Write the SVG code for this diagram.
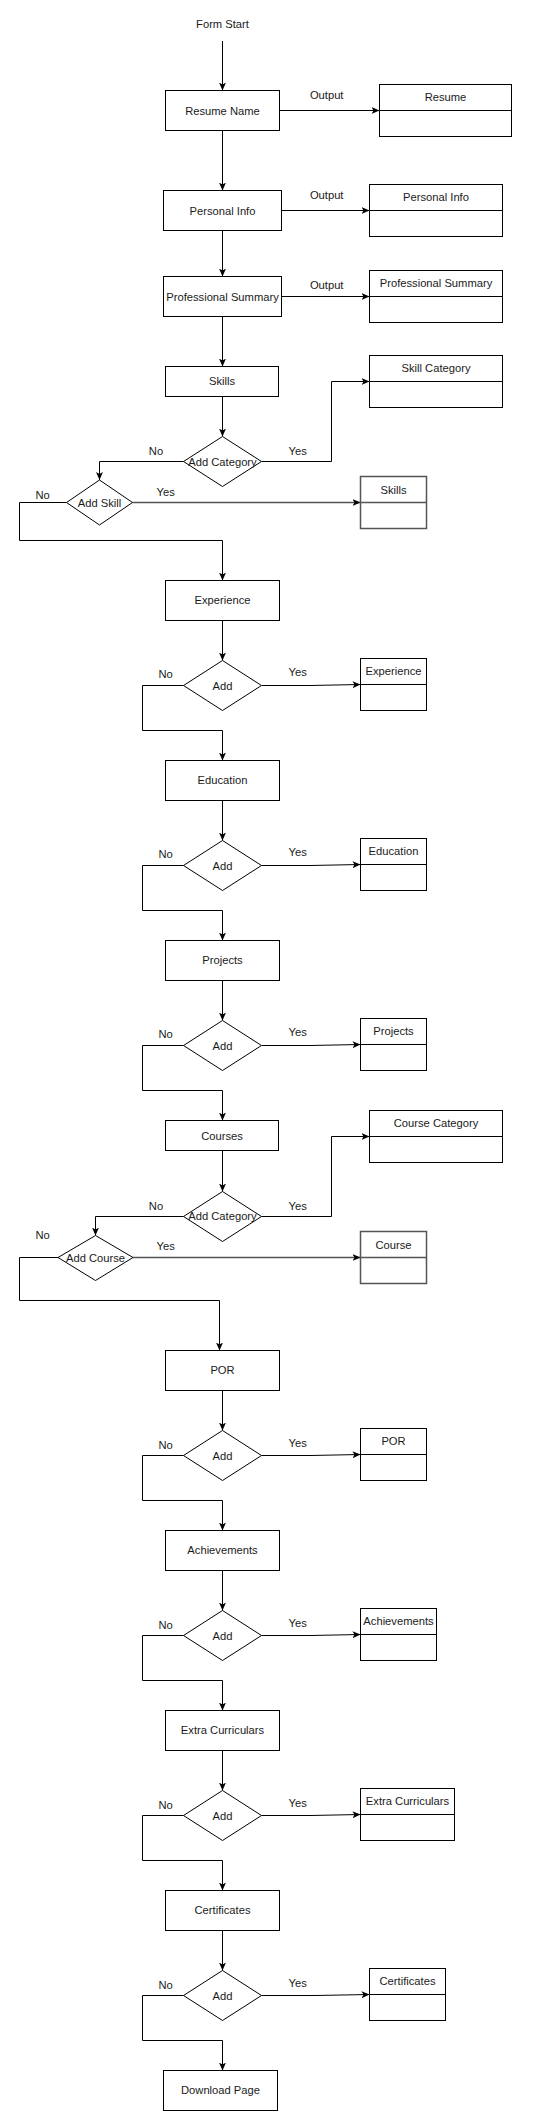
<svg xmlns="http://www.w3.org/2000/svg" width="552" height="2121" viewBox="0 0 552 2121">
<style>
  .box{fill:#fff;stroke:#000;stroke-width:1}
  .gbox{fill:#fff;stroke:#555;stroke-width:1.5}
  .ln{fill:none;stroke:#000;stroke-width:1}
  .gln{fill:none;stroke:#555;stroke-width:1.5}
  text{font-family:"Liberation Sans",Arial,sans-serif;font-size:11.2px;fill:#1a1a1a;text-anchor:middle}
</style>
<defs>
  <marker id="arr" markerUnits="userSpaceOnUse" markerWidth="9" markerHeight="8" refX="8" refY="3.5" orient="auto">
    <path d="M0,0 L8,3.5 L0,7 L2,3.5 Z" fill="#000"/>
  </marker>
</defs>
<rect width="552" height="2121" fill="#fff"/>

<g id="connectors">
  <path class="ln" d="M222.5,41 V90.5" marker-end="url(#arr)"/>
  <path class="ln" d="M222.5,130.5 V190.5" marker-end="url(#arr)"/>
  <path class="ln" d="M222.5,230.5 V276.5" marker-end="url(#arr)"/>
  <path class="ln" d="M222.5,316.5 V366.5" marker-end="url(#arr)"/>
  <path class="ln" d="M222.5,396.5 V436.5" marker-end="url(#arr)"/>
  <path class="ln" d="M279.5,110.5 H379.5" marker-end="url(#arr)"/>
  <path class="ln" d="M281.5,210.5 H369.5" marker-end="url(#arr)"/>
  <path class="ln" d="M281.5,296.5 H369.5" marker-end="url(#arr)"/>
  <path class="ln" d="M261.5,461.5 H331.5 V381.5 H369.5" marker-end="url(#arr)"/>
  <path class="ln" d="M183.5,461.5 H99.5 V480" marker-end="url(#arr)"/>
  <path class="gln" d="M132.5,502.5 H360.5" marker-end="url(#arr)"/>
  <path class="ln" d="M66.5,502.5 H19.5 V540.5 H222.5 V580.5" marker-end="url(#arr)"/>

  <path class="ln" d="M222.5,620.5 V660.5" marker-end="url(#arr)"/>
  <path class="ln" d="M261.5,685.5 H310 L360.5,684.5" marker-end="url(#arr)"/>
  <path class="ln" d="M183.5,685.5 H142.5 V730.5 H222.5 V760.5" marker-end="url(#arr)"/>

  <path class="ln" d="M222.5,800.5 V840.5" marker-end="url(#arr)"/>
  <path class="ln" d="M261.5,865.5 H310 L360.5,864.5" marker-end="url(#arr)"/>
  <path class="ln" d="M183.5,865.5 H142.5 V910.5 H222.5 V940.5" marker-end="url(#arr)"/>

  <path class="ln" d="M222.5,980.5 V1020.5" marker-end="url(#arr)"/>
  <path class="ln" d="M261.5,1045.5 H310 L360.5,1044.5" marker-end="url(#arr)"/>
  <path class="ln" d="M183.5,1045.5 H142.5 V1090.5 H222.5 V1120.5" marker-end="url(#arr)"/>

  <path class="ln" d="M222.5,1150.5 V1191.5" marker-end="url(#arr)"/>
  <path class="ln" d="M261.5,1216.5 H331.5 V1136.5 H369.5" marker-end="url(#arr)"/>
  <path class="ln" d="M183.5,1216.5 H95.5 V1235.5" marker-end="url(#arr)"/>
  <path class="gln" d="M133,1257.5 H360.5" marker-end="url(#arr)"/>
  <path class="ln" d="M58,1257.5 H19.5 V1300.5 H219.5 V1350.5" marker-end="url(#arr)"/>

  <path class="ln" d="M222.5,1390.5 V1430.5" marker-end="url(#arr)"/>
  <path class="ln" d="M261.5,1455.5 H310 L360.5,1454.5" marker-end="url(#arr)"/>
  <path class="ln" d="M183.5,1455.5 H142.5 V1500.5 H222.5 V1530.5" marker-end="url(#arr)"/>

  <path class="ln" d="M222.5,1570.5 V1610.5" marker-end="url(#arr)"/>
  <path class="ln" d="M261.5,1635.5 H310 L360.5,1634.5" marker-end="url(#arr)"/>
  <path class="ln" d="M183.5,1635.5 H142.5 V1680.5 H222.5 V1710.5" marker-end="url(#arr)"/>

  <path class="ln" d="M222.5,1750.5 V1790.5" marker-end="url(#arr)"/>
  <path class="ln" d="M261.5,1815.5 H310 L360.5,1814.5" marker-end="url(#arr)"/>
  <path class="ln" d="M183.5,1815.5 H142.5 V1860.5 H222.5 V1890.5" marker-end="url(#arr)"/>

  <path class="ln" d="M222.5,1930.5 V1970.5" marker-end="url(#arr)"/>
  <path class="ln" d="M261.5,1995.5 H315 L369.5,1994.5" marker-end="url(#arr)"/>
  <path class="ln" d="M183.5,1995.5 H142.5 V2040.5 H222.5 V2070.5" marker-end="url(#arr)"/>

  <text x="326.7" y="98.7">Output</text>
  <text x="326.7" y="198.7">Output</text>
  <text x="326.7" y="289">Output</text>
  <text x="297.7" y="454.7">Yes</text>
  <text x="156" y="454.7">No</text>
  <text x="165.7" y="495.7">Yes</text>
  <text x="42.7" y="498.7">No</text>
  <text x="297.7" y="676.3">Yes</text>
  <text x="165.7" y="678.3">No</text>
  <text x="297.7" y="856.3">Yes</text>
  <text x="165.7" y="858.3">No</text>
  <text x="297.7" y="1036.3">Yes</text>
  <text x="165.7" y="1038.3">No</text>
  <text x="297.7" y="1209.7">Yes</text>
  <text x="156" y="1209.7">No</text>
  <text x="165.7" y="1250.3">Yes</text>
  <text x="42.7" y="1239.3">No</text>
  <text x="297.7" y="1446.7">Yes</text>
  <text x="165.7" y="1448.7">No</text>
  <text x="297.7" y="1626.7">Yes</text>
  <text x="165.7" y="1628.7">No</text>
  <text x="297.7" y="1806.7">Yes</text>
  <text x="165.7" y="1808.7">No</text>
  <text x="297.7" y="1986.7">Yes</text>
  <text x="165.7" y="1988.7">No</text>
</g>

<g id="form-start"><text x="222.5" y="28.3">Form Start</text></g>

<g id="resume-name"><rect class="box" x="165.5" y="90.5" width="114" height="40"/><text x="222.5" y="114.5">Resume Name</text></g>
<g id="resume-entity"><rect class="box" x="379.5" y="84.5" width="132" height="52"/><path class="ln" d="M379.5,110.5 H511.5"/><text x="445.5" y="100.7">Resume</text></g>

<g id="personal-info"><rect class="box" x="163.5" y="190.5" width="118" height="40"/><text x="222.5" y="214.5">Personal Info</text></g>
<g id="personal-info-entity"><rect class="box" x="369.5" y="184.5" width="133" height="52"/><path class="ln" d="M369.5,210.5 H502.5"/><text x="436" y="200.7">Personal Info</text></g>

<g id="professional-summary"><rect class="box" x="163.5" y="276.5" width="118" height="40"/><text x="222.5" y="300.5">Professional Summary</text></g>
<g id="professional-summary-entity"><rect class="box" x="369.5" y="270.5" width="133" height="52"/><path class="ln" d="M369.5,296.5 H502.5"/><text x="436" y="286.7">Professional Summary</text></g>

<g id="skills"><rect class="box" x="165.5" y="366.5" width="113" height="30"/><text x="222" y="385">Skills</text></g>
<g id="skill-category-entity"><rect class="box" x="369.5" y="355.5" width="133" height="52"/><path class="ln" d="M369.5,381.5 H502.5"/><text x="436" y="371.7">Skill Category</text></g>
<g id="add-category-1"><path class="box" d="M222.5,436.5 L261.5,461.5 L222.5,486.5 L183.5,461.5 Z"/><text x="222.5" y="465.5">Add Category</text></g>
<g id="add-skill"><path class="box" d="M99.5,480 L132.5,502.5 L99.5,525 L66.5,502.5 Z"/><text x="99.5" y="506.5">Add Skill</text></g>
<g id="skills-entity"><rect class="gbox" x="360.5" y="476.5" width="66" height="52"/><path class="gln" d="M360.5,502.5 H426.5"/><text x="393.5" y="493.7">Skills</text></g>

<g id="experience"><rect class="box" x="165.5" y="580.5" width="114" height="40"/><text x="222.5" y="604.3">Experience</text></g>
<g id="add-experience"><path class="box" d="M222.5,660.5 L261.5,685.5 L222.5,710.5 L183.5,685.5 Z"/><text x="222.5" y="689.5">Add</text></g>
<g id="experience-entity"><rect class="box" x="360.5" y="658.5" width="66" height="52"/><path class="ln" d="M360.5,684.5 H426.5"/><text x="393.5" y="674.7">Experience</text></g>

<g id="education"><rect class="box" x="165.5" y="760.5" width="114" height="40"/><text x="222.5" y="784.3">Education</text></g>
<g id="add-education"><path class="box" d="M222.5,840.5 L261.5,865.5 L222.5,890.5 L183.5,865.5 Z"/><text x="222.5" y="869.5">Add</text></g>
<g id="education-entity"><rect class="box" x="360.5" y="838.5" width="66" height="52"/><path class="ln" d="M360.5,864.5 H426.5"/><text x="393.5" y="854.7">Education</text></g>

<g id="projects"><rect class="box" x="165.5" y="940.5" width="114" height="40"/><text x="222.5" y="964.3">Projects</text></g>
<g id="add-projects"><path class="box" d="M222.5,1020.5 L261.5,1045.5 L222.5,1070.5 L183.5,1045.5 Z"/><text x="222.5" y="1049.5">Add</text></g>
<g id="projects-entity"><rect class="box" x="360.5" y="1018.5" width="66" height="52"/><path class="ln" d="M360.5,1044.5 H426.5"/><text x="393.5" y="1034.7">Projects</text></g>

<g id="courses"><rect class="box" x="165.5" y="1120.5" width="113" height="30"/><text x="222" y="1139.5">Courses</text></g>
<g id="course-category-entity"><rect class="box" x="369.5" y="1110.5" width="133" height="52"/><path class="ln" d="M369.5,1136.5 H502.5"/><text x="436" y="1126.7">Course Category</text></g>
<g id="add-category-2"><path class="box" d="M222.5,1191.5 L261.5,1216.5 L222.5,1241.5 L183.5,1216.5 Z"/><text x="222.5" y="1220.3">Add Category</text></g>
<g id="add-course"><path class="box" d="M95.5,1235.5 L133,1257.5 L95.5,1280.5 L58,1257.5 Z"/><text x="95.5" y="1261.7">Add Course</text></g>
<g id="course-entity"><rect class="gbox" x="360.5" y="1231.5" width="66" height="52"/><path class="gln" d="M360.5,1257.5 H426.5"/><text x="393.5" y="1248.7">Course</text></g>

<g id="por"><rect class="box" x="165.5" y="1350.5" width="114" height="40"/><text x="222.5" y="1374.3">POR</text></g>
<g id="add-por"><path class="box" d="M222.5,1430.5 L261.5,1455.5 L222.5,1480.5 L183.5,1455.5 Z"/><text x="222.5" y="1459.5">Add</text></g>
<g id="por-entity"><rect class="box" x="360.5" y="1428.5" width="66" height="52"/><path class="ln" d="M360.5,1454.5 H426.5"/><text x="393.5" y="1444.7">POR</text></g>

<g id="achievements"><rect class="box" x="165.5" y="1530.5" width="114" height="40"/><text x="222.5" y="1554.3">Achievements</text></g>
<g id="add-achievements"><path class="box" d="M222.5,1610.5 L261.5,1635.5 L222.5,1660.5 L183.5,1635.5 Z"/><text x="222.5" y="1639.5">Add</text></g>
<g id="achievements-entity"><rect class="box" x="360.5" y="1608.5" width="76" height="52"/><path class="ln" d="M360.5,1634.5 H436.5"/><text x="398.5" y="1624.7">Achievements</text></g>

<g id="extra-curriculars"><rect class="box" x="165.5" y="1710.5" width="114" height="40"/><text x="222.5" y="1734.3">Extra Curriculars</text></g>
<g id="add-extra-curriculars"><path class="box" d="M222.5,1790.5 L261.5,1815.5 L222.5,1840.5 L183.5,1815.5 Z"/><text x="222.5" y="1819.5">Add</text></g>
<g id="extra-curriculars-entity"><rect class="box" x="360.5" y="1788.5" width="94" height="52"/><path class="ln" d="M360.5,1814.5 H454.5"/><text x="407.5" y="1804.7">Extra Curriculars</text></g>

<g id="certificates"><rect class="box" x="165.5" y="1890.5" width="114" height="40"/><text x="222.5" y="1914.3">Certificates</text></g>
<g id="add-certificates"><path class="box" d="M222.5,1970.5 L261.5,1995.5 L222.5,2020.5 L183.5,1995.5 Z"/><text x="222.5" y="1999.5">Add</text></g>
<g id="certificates-entity"><rect class="box" x="369.5" y="1968.5" width="76" height="52"/><path class="ln" d="M369.5,1994.5 H445.5"/><text x="407.5" y="1984.7">Certificates</text></g>

<g id="download-page"><rect class="box" x="163.5" y="2070.5" width="114" height="40"/><text x="220.5" y="2094">Download Page</text></g>
</svg>
